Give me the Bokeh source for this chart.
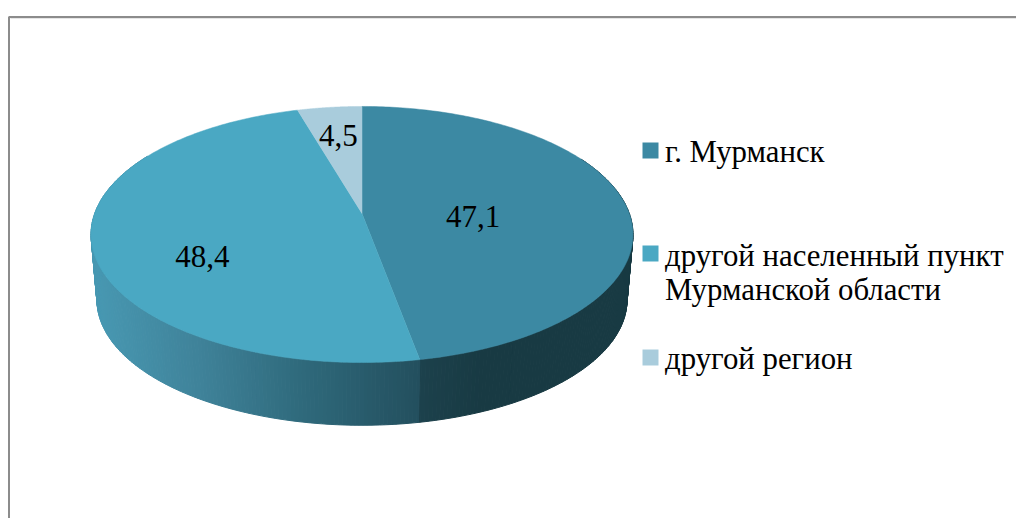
import numpy as np
from bokeh.plotting import figure
from bokeh.models import Range1d
from bokeh.core.properties import value
from bokeh.embed import file_html
from bokeh.resources import INLINE

# --- data ---
categories = ["г. Мурманск", "другой населенный пункт\nМурманской области", "другой регион"]
shares = [47.1, 48.4, 4.5]
share_labels = ["47,1", "48,4", "4,5"]

# --- styles / layout ---
top_colors = ["#3c89a3", "#4aa8c3", "#a9ccdc"]
W, H = 1016, 518
CX, APEX_Y = 361.5, 213.0
A, B, K = 267.3, 124.6, 0.164
DROP, SHRINK = 66.0, 0.978
FONT = value("Liberation Serif")
LABEL_R = [0.42, 0.60, 0.70]
LABEL_DY = [8, 25, 0]


def pie(theta, z=0.0, r=1.0):
    """theta in degrees clockwise from 12 o'clock; z=1 is the bottom rim."""
    t = np.radians(theta)
    u, v = r * np.sin(t), r * np.cos(t)
    d = 1 + K * v
    s = 1 + (SHRINK - 1) * z
    return CX + s * A * u / d, APEX_Y + DROP * z - s * B * v / d


def mix(c0, c1, f):
    a = [int(c0[i:i + 2], 16) for i in (1, 3, 5)]
    b = [int(c1[i:i + 2], 16) for i in (1, 3, 5)]
    return "#%02x%02x%02x" % tuple(int(round(x + (y - x) * f)) for x, y in zip(a, b))


p = figure(width=W, height=H, output_backend="svg", toolbar_location=None,
           x_range=Range1d(0, W), y_range=Range1d(H, 0),
           min_border=0, outline_line_color=None, background_fill_color="white")
p.axis.visible = False
p.grid.visible = False

# chart frame
p.line([8.5, 8.5, 1016], [518, 16.5, 16.5], line_color="#8c8c8c", line_width=2)
p.line([10, 1016], [18, 18], line_color="#e6e6e6", line_width=1)

edges = 360 * np.cumsum([0] + shares) / sum(shares)

# side wall: thin gradient strips along the front rim
stops = [(91, "#4899b3"), (200, "#3f8299"), (300, "#2f6a7c"), (418, "#234f5e"),
         (420, "#1c414c"), (480, "#183a43"), (640, "#183a43")]
sx, sy, sc = [], [], []
ths = np.arange(62.0, 300.0, 0.75)
ths = np.unique(np.append(ths, edges[1]))
for t0, t1 in zip(ths[:-1], ths[1:]):
    x0, y0 = pie(t0)
    x1, y1 = pie(t1)
    x2, y2 = pie(t1, 1)
    x3, y3 = pie(t0, 1)
    sx.append([x0, x1, x2, x3])
    sy.append([y0, y1, y2, y3])
    xm = (x0 + x1 + x2 + x3) / 4
    if t0 < edges[1]:
        xm = max(xm, 420)
    else:
        xm = min(xm, 418)
    for (a, ca), (b, cb) in zip(stops[:-1], stops[1:]):
        if a <= xm <= b:
            sc.append(mix(ca, cb, (xm - a) / (b - a)))
            break
    else:
        sc.append(stops[0][1])
p.patches(sx, sy, fill_color=sc, line_color=sc, line_width=1)

# top face
tx, ty = [], []
for a0, a1 in zip(edges[:-1], edges[1:]):
    th = np.linspace(a0, a1, 200)
    x, y = pie(th)
    tx.append([CX] + list(x))
    ty.append([APEX_Y] + list(y))
p.patches(tx, ty, fill_color=top_colors, line_color=top_colors, line_width=0.5)

# value labels
lx, ly = [], []
for i, (a0, a1) in enumerate(zip(edges[:-1], edges[1:])):
    x, y = pie((a0 + a1) / 2, r=LABEL_R[i])
    lx.append(float(x))
    ly.append(float(y) + LABEL_DY[i])
p.text(lx, ly, text=share_labels, text_font=FONT, text_font_size="31px",
       text_color="black", text_align="center", text_baseline="middle")

# legend
sq_top = [142, 245, 349]
p.quad(left=[642] * 3, right=[658] * 3, top=sq_top, bottom=[t + 16 for t in sq_top],
       fill_color=top_colors, line_color=None)
leg_x, leg_y, leg_t = [], [], []
for base, cat in zip([151, 255, 358], categories):
    for j, line in enumerate(cat.split("\n")):
        leg_x.append(664.5)
        leg_y.append(base + 34.5 * j)
        leg_t.append(line)
p.text(leg_x, leg_y, text=leg_t, text_font=FONT, text_font_size="30.8px",
       text_color="black", text_align="left", text_baseline="alphabetic")

open("out.html", "w").write(file_html(p, INLINE))
